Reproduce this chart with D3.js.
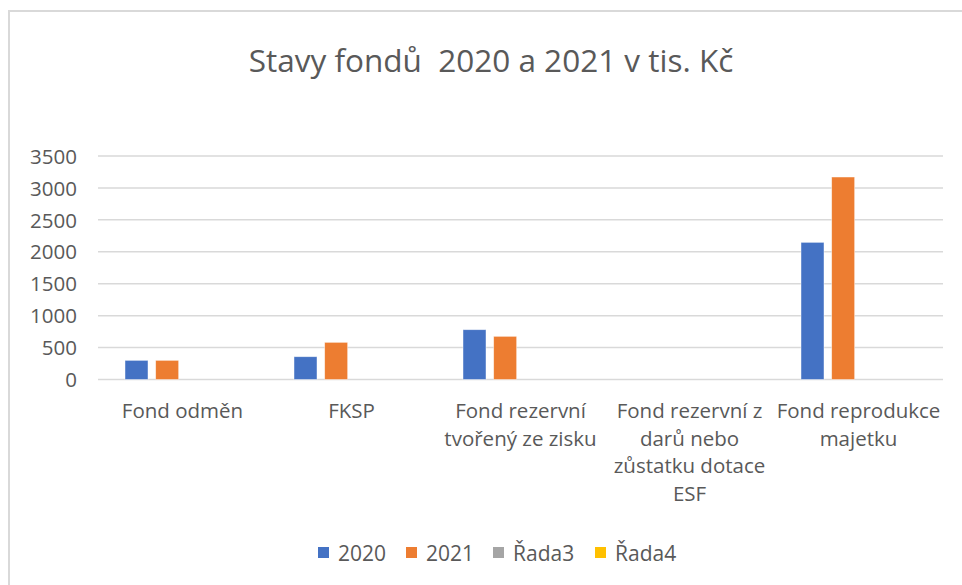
<!DOCTYPE html>
<html>
<head>
<meta charset="utf-8">
<script src="https://cdn.jsdelivr.net/npm/d3@7"></script>
<style>
  html, body { margin: 0; padding: 0; background: #fff; }
  svg { display: block; }
  text { font-family: "Open Sans", "Noto Sans", sans-serif; fill: #595959; }
</style>
</head>
<body>
<svg id="chart" width="962" height="585"></svg>
<script>
const title = "Stavy fondů  2020 a 2021 v tis. Kč";
const categories = [
  "Fond odměn",
  "FKSP",
  "Fond rezervní tvořený ze zisku",
  "Fond rezervní z darů nebo zůstatku dotace ESF",
  "Fond reprodukce majetku"
];
const seriesNames = ["2020", "2021", "Řada3", "Řada4"];
const values2020 = [300, 357, 780, 0, 2148];
const values2021 = [300, 582, 676, 0, 3171];
const valuesRada3 = [0, 0, 0, 0, 0];
const valuesRada4 = [0, 0, 0, 0, 0];
const seriesValues = [values2020, values2021, valuesRada3, valuesRada4];
const seriesColors = ["#4472C4", "#ED7D31", "#A5A5A5", "#FFC000"];
const yTicks = [0, 500, 1000, 1500, 2000, 2500, 3000, 3500];

const svg = d3.select("#chart");

// outer chart border (only left and top visible)
svg.append("path")
  .attr("d", "M9,590 L9,11 L970,11")
  .attr("fill", "none")
  .attr("stroke", "#d9d9d9")
  .attr("stroke-width", 2);

// title
svg.append("text")
  .attr("x", 491)
  .attr("y", 72)
  .attr("text-anchor", "middle")
  .style("font-size", "31.5px")
  .style("white-space", "pre")
  .text(title);

const plotLeft = 98, plotRight = 943, plotTop = 156, plotBottom = 379.5;

const y = d3.scaleLinear().domain([0, 3500]).range([plotBottom, plotTop]);
const x0 = d3.scaleBand().domain(categories).range([plotLeft, plotRight]).paddingInner(0).paddingOuter(0);
const x1 = d3.scaleBand().domain(seriesNames)
  .range([27, x0.bandwidth() - 27]).paddingInner(0.25).paddingOuter(0);

// gridlines
svg.append("g")
  .selectAll("line")
  .data(yTicks)
  .join("line")
  .attr("x1", plotLeft).attr("x2", plotRight)
  .attr("y1", d => y(d)).attr("y2", d => y(d))
  .attr("stroke", "#d9d9d9")
  .attr("stroke-width", 1.5);

// y axis labels
const yAxis = d3.axisLeft(y).tickValues(yTicks).tickSize(0).tickPadding(0).tickFormat(d3.format("d"));
const gy = svg.append("g").attr("transform", `translate(77,0)`).call(yAxis);
gy.select(".domain").remove();
gy.selectAll("text")
  .style("font-size", "20.5px")
  .style("font-family", "'Open Sans', sans-serif")
  .attr("fill", "#595959")
  .attr("dy", "0.35em");

// bars
const groups = svg.append("g")
  .selectAll("g")
  .data(categories)
  .join("g")
  .attr("transform", d => `translate(${x0(d)},0)`);

groups.selectAll("rect")
  .data((d, i) => seriesNames.map((s, j) => ({ s, v: seriesValues[j][i], c: seriesColors[j] })))
  .join("rect")
  .attr("x", d => x1(d.s))
  .attr("width", x1.bandwidth())
  .attr("y", d => y(d.v))
  .attr("height", d => y(0) - y(d.v))
  .attr("fill", d => d.c)
  .attr("stroke", "#ffffff")
  .attr("stroke-opacity", 0.6)
  .attr("stroke-width", 0.75);

// x axis category labels (wrapped)
const xAxis = d3.axisBottom(x0).tickSize(0).tickPadding(0);
const gx = svg.append("g").attr("transform", `translate(0,${plotBottom})`).call(xAxis);
gx.select(".domain").remove();
gx.selectAll("text")
  .style("font-size", "20.5px")
  .style("font-family", "'Open Sans', sans-serif")
  .attr("fill", "#595959")
  .attr("y", 0)
  .attr("dy", 0)
  .each(function(d) {
    const t = d3.select(this);
    const words = d.split(" ");
    t.text(null);
    const maxW = 168;
    let lines = [];
    let cur = [];
    const probe = t.append("tspan");
    words.forEach(w => {
      const test = cur.concat([w]).join(" ");
      probe.text(test);
      if (probe.node().getComputedTextLength() > maxW && cur.length) {
        lines.push(cur.join(" "));
        cur = [w];
      } else {
        cur.push(w);
      }
    });
    lines.push(cur.join(" "));
    probe.remove();
    lines.forEach((ln, i) => {
      t.append("tspan").attr("x", 0).attr("y", 38.5 + i * 27.5).text(ln);
    });
  });

// legend
const legendItems = [
  { x: 318, tx: 338 },
  { x: 406, tx: 426 },
  { x: 493, tx: 513 },
  { x: 595, tx: 615 }
];
const lg = svg.append("g");
seriesNames.forEach((s, i) => {
  lg.append("rect")
    .attr("x", legendItems[i].x).attr("y", 547)
    .attr("width", 11).attr("height", 11)
    .attr("fill", seriesColors[i]);
  lg.append("text")
    .attr("x", legendItems[i].tx).attr("y", 561)
    .style("font-size", "21px")
    .text(s);
});
</script>
</body>
</html>
